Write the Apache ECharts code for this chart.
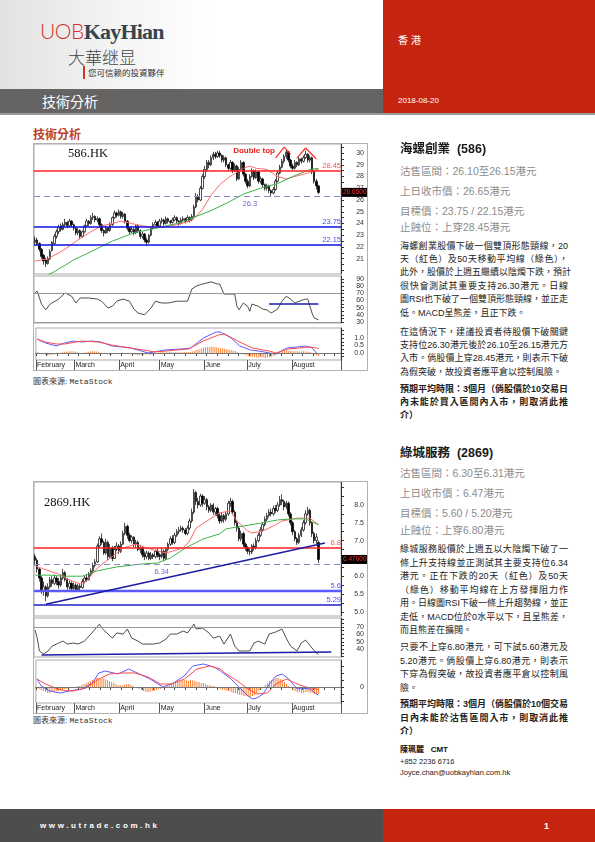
<!DOCTYPE html>
<html><head><meta charset="utf-8">
<script src="https://cdn.jsdelivr.net/npm/echarts@6/dist/echarts.min.js"></script>
<style>
body{margin:0;width:595px;height:842px;position:relative;background:#fff;overflow:hidden;font-family:"Liberation Sans","Noto Sans CJK TC",sans-serif}
.a{position:absolute;white-space:nowrap}
.ln{position:absolute;left:400px;width:168px;font-size:9px;line-height:12px;color:#222;white-space:nowrap;font-family:"Liberation Sans","Noto Sans CJK TC",sans-serif}
.j{text-align:justify;text-align-last:justify}
.b{font-weight:bold}
.info{position:absolute;left:400px;font-size:10.5px;line-height:14px;color:#8c8c8c;white-space:nowrap}
.ttl{position:absolute;left:400px;font-size:12.5px;line-height:16px;font-weight:bold;color:#1a1a1a;white-space:nowrap}
.chart{position:absolute;left:33px;width:335px;border:1px solid #b0b0b0;box-sizing:border-box;background:#fff}
.src{position:absolute;left:33px;font-size:8px;color:#333;white-space:nowrap}
.src span{font-family:"Liberation Mono",monospace}
</style></head><body>

<!-- header -->
<div class="a" style="left:0;top:0;width:383px;height:89px;background:linear-gradient(to right,#e2e2e2 0%,#f4f4f4 30%,#fff 55%)"></div>
<div class="a" style="left:40px;top:17px;line-height:28px"><span style="font-family:Lato,'Liberation Sans';font-weight:300;font-size:21px;color:#d8312b;letter-spacing:-0.5px">UOB</span><span style="font-family:'Liberation Serif';font-weight:bold;font-size:22px;color:#36444d;letter-spacing:-0.8px">KayHian</span></div>
<div class="a" style="left:68px;top:46px;font-size:17px;line-height:22px;color:#454545;font-family:'Noto Sans CJK SC';font-weight:300">大華继显</div>
<div class="a" style="left:83px;top:66px;width:1.5px;height:13px;background:#d8312b"></div>
<div class="a" style="left:88px;top:66px;font-size:8.5px;line-height:13px;color:#333;font-family:'Noto Sans CJK TC'">您可信赖的投資夥伴</div>
<div class="a" style="left:0;top:89px;width:383px;height:24px;background:#666462"></div>
<div class="a" style="left:42px;top:91px;font-size:14px;line-height:20px;color:#fff;font-family:'Noto Sans CJK TC'">技術分析</div>
<div class="a" style="left:383px;top:0;width:212px;height:113px;background:#c5250f"></div>
<div class="a" style="left:398px;top:33px;font-size:10px;line-height:14px;color:#fff;letter-spacing:3px;font-family:'Noto Sans CJK TC'">香港</div>
<div class="a" style="left:398px;top:96px;font-size:8px;line-height:10px;color:#fff">2018-08-20</div>
<div class="a" style="left:0;top:113px;width:595px;height:2px;background:#9a9a9a"></div>

<div class="a" style="left:33px;top:126px;font-size:12px;line-height:16px;font-weight:bold;color:#b8402c;font-family:'Noto Sans CJK TC'">技術分析</div>

<!-- chart 1 -->
<div id="c1" class="chart" style="top:143px;height:228px"></div>
<div class="a" style="left:68px;top:145px;font-family:'Liberation Serif';font-size:12.5px;line-height:16px;color:#111">586.HK</div>
<div class="src" style="top:375px">圖表來源: <span>MetaStock</span></div>

<!-- chart 2 -->
<div id="c2" class="chart" style="top:481px;height:233px"></div>
<div class="a" style="left:44px;top:494px;font-family:'Liberation Serif';font-size:12.5px;line-height:16px;color:#111">2869.HK</div>
<div class="src" style="top:714px">圖表來源: <span>MetaStock</span></div>

<!-- text block 1 -->
<div class="ttl" style="top:141px">海螺創業&nbsp; (586)</div>
<div class="info" style="top:164px">沽售區間：26.10至26.15港元</div>
<div class="info" style="top:184px">上日收市價：26.65港元</div>
<div class="info" style="top:204px">目標價：23.75 / 22.15港元</div>
<div class="info" style="top:220px">止蝕位：上穿28.45港元</div>
<div class="ln j" style="top:239.5px">海螺創業股價下破一個雙頂形態頸線，20</div>
<div class="ln j" style="top:252.9px">天（紅色）及50天移動平均線（綠色），</div>
<div class="ln j" style="top:266.3px">此外，股價於上週五繼續以陰燭下跌，預計</div>
<div class="ln j" style="top:279.7px">很快會測試其重要支持26.30港元。日線</div>
<div class="ln j" style="top:293.1px">圖RSI也下破了一個雙頂形態頸線，並正走</div>
<div class="ln" style="top:306.5px">低。MACD呈熊差，且正下跌。</div>
<div class="ln j" style="top:325.7px">在這情況下，建議投資者待股價下破關鍵</div>
<div class="ln j" style="top:339px">支持位26.30港元後於26.10至26.15港元方</div>
<div class="ln j" style="top:352.3px">入市。倘股價上穿28.45港元，則表示下破</div>
<div class="ln" style="top:365.7px">為假突破，故投資者應平倉以控制風險。</div>
<div class="ln j b" style="top:383.3px">預期平均時限：3個月（倘股價於10交易日</div>
<div class="ln j b" style="top:396px">內未能於買入區間內入市，則取消此推</div>
<div class="ln b" style="top:409px">介）</div>

<!-- text block 2 -->
<div class="ttl" style="top:445px">綠城服務&nbsp; (2869)</div>
<div class="info" style="top:466px">沽售區間：6.30至6.31港元</div>
<div class="info" style="top:486px">上日收市價：6.47港元</div>
<div class="info" style="top:506px">目標價：5.60 / 5.20港元</div>
<div class="info" style="top:523px">止蝕位：上穿6.80港元</div>
<div class="ln j" style="top:543px">綠城服務股價於上週五以大陰燭下破了一</div>
<div class="ln j" style="top:556.5px">條上升支持線並正測試其主要支持位6.34</div>
<div class="ln j" style="top:570px">港元。正在下跌的20天（紅色）及50天</div>
<div class="ln j" style="top:583.5px">（綠色）移動平均線在上方發揮阻力作</div>
<div class="ln j" style="top:597px">用。日線圖RSI下破一條上升趨勢線，並正</div>
<div class="ln j" style="top:610.5px">走低，MACD位於0水平以下，且呈熊差，</div>
<div class="ln" style="top:624px">而且熊差在擴闊。</div>
<div class="ln j" style="top:641px">只要不上穿6.80港元，可下試5.60港元及</div>
<div class="ln j" style="top:654.5px">5.20港元。倘股價上穿6.80港元，則表示</div>
<div class="ln j" style="top:668px">下穿為假突破，故投資者應平倉以控制風</div>
<div class="ln" style="top:681.5px">險。</div>
<div class="ln j b" style="top:698px">預期平均時限：3個月（倘股價於10個交易</div>
<div class="ln j b" style="top:711.5px">日內未能於沽售區間入市，則取消此推</div>
<div class="ln b" style="top:725px">介）</div>
<div class="a" style="left:400px;top:744px;font-size:8px;line-height:11px;font-weight:bold;color:#111">陳珮麗&nbsp;&nbsp; CMT</div>
<div class="a" style="left:400px;top:757px;font-size:7.5px;line-height:10px;color:#222">+852 2236 6716</div>
<div class="a" style="left:400px;top:768px;font-size:7.5px;line-height:10px;color:#222">Joyce.chan@uobkayhian.com.hk</div>

<!-- footer -->
<div class="a" style="left:0;top:809px;width:383px;height:33px;background:#4d4d4d"></div>
<div class="a" style="left:383px;top:809px;width:212px;height:33px;background:#c5250f"></div>
<div class="a" style="left:40px;top:820px;font-size:8px;line-height:12px;font-weight:bold;color:#fff;letter-spacing:2.6px">www.utrade.com.hk</div>
<div class="a" style="left:544px;top:820px;font-size:9px;line-height:12px;font-weight:bold;color:#fff">1</div>

<script>
// ---------- shared x axis (trading days Feb 1 - Aug 31, 2018) ----------
const TOTAL_SLOTS = 143;
const monthStarts = [0, 18, 39, 58, 79, 99, 120];
const monthNames = ['February', 'March', 'April', 'May', 'June', 'July', 'August'];

// ---------- 586.HK ----------
// [open, close, low, high]
const ohlc586 = [
[22.4,22.6,22.2,22.9],[22.6,22.3,22.1,22.8],[22.3,21.8,21.6,22.4],[21.8,21.2,21.0,21.9],[21.3,20.8,20.5,21.4],
[20.9,20.6,20.3,21.1],[20.6,21.0,20.5,21.2],[21.0,21.6,20.9,21.8],[21.7,22.4,21.6,22.5],[22.3,22.9,22.2,23.1],
[22.9,23.3,22.7,23.5],[23.3,23.7,23.1,23.9],[23.8,23.5,23.3,24.0],[23.5,23.9,23.4,24.1],[23.9,24.1,23.7,24.4],
[24.1,23.8,23.6,24.2],[23.8,24.2,23.7,24.4],[24.2,23.9,23.7,24.3],[23.9,23.6,23.4,24.0],[23.6,23.2,23.0,23.7],
[23.2,23.4,23.0,23.6],[23.4,22.9,22.7,23.5],[22.9,23.3,22.8,23.4],[23.3,23.8,23.2,23.9],[23.8,24.2,23.7,24.4],
[24.2,24.0,23.8,24.3],[24.0,24.5,23.9,24.7],[24.5,24.6,24.3,24.9],[24.6,24.3,24.1,24.7],[24.3,24.4,24.1,24.6],
[24.4,23.9,23.7,24.5],[23.9,23.4,23.2,24.0],[23.4,23.2,22.9,23.5],[23.2,23.6,23.1,23.8],[23.6,23.4,23.2,23.7],
[23.4,23.9,23.3,24.1],[23.9,24.5,23.8,24.6],[24.5,24.9,24.4,25.1],[24.9,24.7,24.5,25.0],[24.7,25.0,24.6,25.2],
[25.0,24.6,24.4,25.1],[24.6,24.8,24.4,25.0],[24.8,24.2,24.0,24.9],[24.2,23.6,23.4,24.3],[23.6,23.3,23.1,23.7],
[23.3,23.5,23.2,23.8],[23.5,23.2,23.0,23.6],[23.2,23.8,23.1,23.9],[23.8,23.4,23.2,23.9],[23.4,22.9,22.7,23.5],
[22.9,23.1,22.7,23.3],[23.1,22.6,22.4,23.2],[22.6,22.4,22.1,22.8],[22.4,23.0,22.3,23.1],[23.0,23.6,22.9,23.7],
[23.6,23.9,23.5,24.1],[23.9,24.1,23.8,24.3],[24.1,23.8,23.6,24.2],[23.8,24.2,23.7,24.4],[24.2,24.3,24.0,24.5],
[24.3,24.0,23.8,24.4],[24.0,24.4,23.9,24.6],[24.4,24.2,24.0,24.5],[24.2,24.1,23.9,24.3],[24.1,24.3,24.0,24.5],
[24.3,24.5,24.2,24.7],[24.5,24.2,24.0,24.6],[24.2,24.0,23.8,24.3],[24.0,24.3,23.9,24.5],[24.3,24.4,24.1,24.6],
[24.4,24.2,24.0,24.5],[24.2,24.5,24.1,24.7],[24.5,24.3,24.1,24.6],[24.3,24.6,24.2,24.8],[24.6,25.4,24.5,25.6],
[25.4,26.3,25.3,26.6],[26.3,26.0,25.8,26.5],[26.0,27.0,25.9,27.2],[27.0,28.0,26.9,28.2],[28.0,28.6,27.8,28.9],
[28.6,29.2,28.4,29.4],[29.2,29.0,28.7,29.4],[29.0,29.6,28.9,29.8],[29.6,29.9,29.4,30.1],[29.9,29.7,29.5,30.1],
[29.7,30.0,29.6,30.2],[30.0,29.8,29.6,30.2],[29.8,29.4,29.2,29.9],[29.4,29.6,29.2,29.8],[29.6,29.0,28.8,29.7],
[29.0,28.7,28.5,29.1],[28.7,29.2,28.6,29.4],[29.2,28.5,28.3,29.3],[28.5,28.9,28.4,29.1],[28.9,27.8,27.6,29.0],
[27.8,28.6,27.7,28.8],[28.6,29.2,28.5,29.4],[29.2,28.2,28.0,29.3],[28.2,27.6,27.4,28.3],[27.6,27.2,27.0,27.8],
[27.2,28.0,27.1,28.2],[28.0,28.5,27.9,28.7],[28.5,27.9,27.7,28.6],[27.9,28.4,27.8,28.6],[28.4,27.6,27.4,28.5],
[27.6,27.8,27.4,28.0],[27.8,27.3,27.1,27.9],[27.3,27.0,26.8,27.4],[27.0,27.2,26.8,27.4],[27.2,26.8,26.6,27.3],
[26.8,26.6,26.3,26.9],[26.6,26.9,26.5,27.1],[26.9,27.6,26.8,27.8],[27.6,28.3,27.5,28.5],[28.3,28.8,28.2,29.0],
[28.8,29.3,28.7,29.5],[29.3,29.7,29.1,29.9],[29.7,30.1,29.5,30.3],[30.1,29.4,29.2,30.2],[29.4,28.9,28.7,29.5],
[28.9,28.7,28.5,29.1],[28.7,29.2,28.6,29.4],[29.2,29.0,28.8,29.3],[29.0,29.5,28.9,29.7],[29.5,29.3,29.1,29.6],
[29.3,29.6,29.2,29.8],[29.6,29.9,29.5,30.2],[29.9,29.4,29.2,30.0],[29.4,29.6,29.2,29.8],[29.6,28.4,28.2,29.7],
[28.4,27.6,27.4,28.5],[27.6,27.2,26.9,27.8],[27.2,26.65,26.5,27.3]
];
const ma20_586 = [[0,20.8],[6,21.0],[13,21.7],[20,22.6],[26,23.3],[31,23.8],[36,24.0],[40,24.2],[45,24.0],[50,23.8],[55,23.7],[60,23.7],[66,23.9],[70,24.1],[74,24.4],[78,25.2],[82,26.4],[86,27.3],[90,27.9],[97,28.7],[100,28.9],[103,28.7],[108,28.6],[113,28.0],[117,27.8],[121,28.0],[127,28.3],[131,28.6],[132,28.6]];
const ma50_586 = [[0,19.1],[9,19.9],[18,20.9],[26,21.6],[36,22.5],[46,23.2],[54,23.5],[66,24.0],[75,24.6],[82,25.1],[90,25.8],[97,26.5],[105,27.0],[113,27.4],[120,28.0],[128,28.6],[132,28.7]];
const rsi586 = [[0,70.5],[1,73],[3,55],[5,47],[7,55],[11,62],[14,70.5],[17,66],[19,56.5],[21,63.5],[25,63.5],[29,62],[31,59],[34,49.5],[36,52],[38,59],[41,62],[44,59],[46,48],[48,42.5],[51,40],[54,49.5],[56,59],[59,56.5],[62,56.5],[66,59],[71,59],[73,76],[75,80],[78,83],[82,86],[85,83],[86,83],[88,69],[91,69],[93,69],[94,52],[95,47],[97,56.5],[99,52],[100,45],[101,55],[104,52],[106,48],[108,47],[110,42.5],[113,48],[115,59],[117,66],[119,62],[121,56.5],[123,59],[126,62],[127,62],[129,42.5],[130,35.6],[132,33]];
const macd586 = [[0,0.93],[4,0.67],[9,0.47],[13,0.67],[17,0.8],[21,0.73],[26,0.8],[30,0.73],[35,0.47],[40,0.4],[44,0.33],[49,0.13],[52,0],[55,0.07],[60,0.2],[68,0.27],[72,0.33],[78,1.0],[84,1.4],[86,1.4],[91,1.0],[95,0.47],[100,0.2],[104,0.13],[109,0],[112,-0.07],[117,0.33],[122,0.4],[126,0.47],[129,0.33],[131,0],[132,-0.07]];
const signal586 = [[0,0.93],[4,0.73],[9,0.6],[13,0.6],[21,0.8],[29,0.73],[35,0.53],[44,0.33],[50,0.2],[55,0.07],[60,0.13],[71,0.27],[78,0.8],[85,1.2],[88,1.27],[94,0.8],[101,0.33],[109,0.13],[112,0],[118,0.27],[128,0.4],[131,0.33],[132,0.3]];
const hist586 = [0.05,0.03,0,-0.05,-0.1,-0.15,-0.15,-0.12,-0.08,
-0.05,-0.02,0.02,0.05,0.08,0.1,0.1,
0.12,0.12,0.1,0.05,0.02,0,0.02,0.05,0.08,0.1,0.12,0.12,0.1,0.06,0.02,
-0.02,-0.05,-0.08,-0.1,-0.1,-0.08,-0.05,-0.02,0,0.02,
0,-0.02,-0.05,-0.08,-0.1,-0.12,-0.15,-0.15,-0.12,-0.1,-0.08,-0.1,-0.12,-0.08,-0.04,0,0.03,
0.05,0.05,0.04,0.05,0.06,0.05,0.04,0.05,0.05,0.04,0.05,0.06,0.05,0.06,0.08,0.1,
0.15,0.22,0.25,0.3,0.35,0.38,0.4,0.4,0.42,0.4,0.38,0.35,0.32,0.3,0.28,0.25,0.22,
0.2,0.15,0.12,0.05,0,-0.05,-0.1,-0.15,
-0.2,-0.25,-0.25,-0.28,-0.3,-0.3,-0.28,-0.3,-0.33,-0.3,-0.28,-0.25,-0.2,-0.12,
-0.05,0.02,0.08,0.12,0.15,0.15,0.12,0.1,0.12,0.12,0.1,0.1,0.12,0.1,0.08,0.06,
0,-0.08,-0.15,-0.2];
const stop586 = 28.45, support586 = 26.3, targets586 = [23.75, 22.15], close586 = 26.65;
const rsiTrend586 = [[109,55],[132,55]];
const doubleTop586 = [[[112,29.57],[116,30.51]],[[116,30.51],[119,29.91]],[[122,29.57],[126,30.43]],[[126,30.43],[131,29.49]]];

// ---------- 2869.HK ----------
const ohlc2869 = [
[6.55,6.45,6.30,6.62],[6.45,6.20,6.10,6.50],[6.20,5.95,5.85,6.25],[5.95,5.60,5.50,6.00],[5.60,5.70,5.45,5.85],
[5.70,5.45,5.30,5.75],[5.45,5.70,5.40,5.80],[5.70,5.90,5.65,5.98],[5.90,5.80,5.70,6.00],[5.80,5.95,5.75,6.05],
[5.95,5.85,5.75,6.00],[5.85,5.75,5.65,5.95],[5.75,5.95,5.70,6.05],[5.95,6.10,5.90,6.20],[6.10,5.90,5.85,6.15],
[5.90,5.70,5.62,5.95],[5.70,5.80,5.62,5.88],[5.80,5.65,5.58,5.85],[5.65,5.75,5.60,5.82],[5.75,5.62,5.56,5.80],
[5.62,5.72,5.58,5.78],[5.72,5.68,5.60,5.80],[5.68,5.85,5.65,5.92],[5.85,5.95,5.80,6.02],[5.95,5.90,5.84,6.05],
[5.90,6.05,5.88,6.12],[6.05,6.15,6.00,6.22],[6.15,6.30,6.10,6.38],[6.30,6.40,6.25,6.48],[6.40,6.85,6.38,6.92],
[6.85,7.05,6.80,7.12],[7.05,6.95,6.88,7.20],[6.95,6.65,6.60,7.00],[6.65,6.95,6.60,7.05],[6.95,6.55,6.45,7.00],
[6.55,6.80,6.50,6.90],[6.80,6.50,6.42,6.85],[6.50,6.75,6.48,6.85],[6.75,6.85,6.70,6.95],[6.85,6.70,6.62,6.90],
[6.70,6.90,6.65,6.98],[6.90,7.20,6.88,7.28],[7.20,7.40,7.15,7.50],[7.40,7.15,7.05,7.45],[7.15,7.00,6.95,7.22],
[7.00,7.10,6.92,7.15],[7.10,6.90,6.82,7.12],[6.90,6.95,6.80,7.02],[6.95,6.75,6.70,7.00],[6.75,6.80,6.65,6.88],
[6.80,6.60,6.52,6.85],[6.60,6.55,6.45,6.70],[6.55,6.65,6.48,6.72],[6.65,6.50,6.45,6.70],[6.50,6.60,6.45,6.68],
[6.60,6.55,6.48,6.65],[6.55,6.70,6.50,6.75],[6.70,6.60,6.52,6.78],[6.60,6.55,6.45,6.65],[6.55,6.70,6.50,6.80],
[6.70,6.50,6.42,6.75],[6.50,6.75,6.45,6.82],[6.75,6.90,6.70,6.95],[6.90,7.05,6.85,7.12],[7.05,6.95,6.88,7.15],
[6.95,7.15,6.90,7.22],[7.15,7.25,7.10,7.32],[7.25,7.30,7.18,7.38],[7.30,7.35,7.25,7.42],[7.35,7.30,7.22,7.40],
[7.30,7.20,7.15,7.35],[7.20,7.35,7.15,7.42],[7.35,7.55,7.30,7.62],[7.55,7.80,7.50,7.90],[7.80,8.35,7.75,8.45],
[8.35,8.10,8.00,8.40],[8.10,8.00,7.90,8.20],[8.00,8.25,7.95,8.32],[8.25,8.05,7.95,8.30],[8.05,8.15,8.00,8.25],
[8.15,7.95,7.85,8.20],[7.95,7.85,7.78,8.00],[7.85,8.00,7.80,8.05],[8.00,7.80,7.72,8.05],[7.80,7.90,7.72,7.95],
[7.90,7.70,7.62,7.95],[7.70,7.55,7.47,7.78],[7.55,7.70,7.50,7.80],[7.70,7.60,7.50,7.75],[7.60,7.75,7.55,7.82],
[7.75,8.05,7.70,8.12],[8.05,8.10,7.95,8.20],[8.10,7.80,7.72,8.15],[7.80,7.50,7.42,7.85],[7.50,7.35,7.25,7.58],
[7.35,7.05,6.98,7.40],[7.05,7.20,6.98,7.28],[7.20,6.90,6.82,7.25],[6.90,6.80,6.72,6.95],[6.80,6.70,6.62,6.85],
[6.70,6.68,6.58,6.78],[6.68,6.85,6.62,6.90],[6.85,6.80,6.72,6.92],[6.80,7.00,6.75,7.08],[7.00,7.15,6.95,7.22],
[7.15,7.30,7.10,7.38],[7.30,7.45,7.25,7.52],[7.45,7.60,7.40,7.68],[7.60,7.70,7.55,7.78],[7.70,7.80,7.65,7.88],
[7.80,7.75,7.68,7.90],[7.75,7.90,7.70,7.98],[7.90,7.85,7.78,8.00],[7.85,8.00,7.80,8.08],[8.00,8.15,7.95,8.25],
[8.15,8.10,8.00,8.30],[8.10,7.95,7.85,8.15],[7.95,8.05,7.88,8.12],[8.05,7.75,7.68,8.10],[7.75,7.50,7.42,7.80],
[7.50,7.25,7.15,7.55],[7.25,7.05,6.98,7.30],[7.05,6.95,6.88,7.10],[6.95,7.15,6.90,7.22],[7.15,7.30,7.10,7.38],
[7.30,7.50,7.25,7.58],[7.50,7.75,7.45,7.85],[7.75,7.85,7.70,7.95],[7.85,7.50,7.42,7.90],[7.50,7.20,7.10,7.55],
[7.20,7.00,6.92,7.25],[7.00,7.10,6.90,7.20],[6.95,6.47,6.37,7.00]
];
const ma20_2869 = [[0,6.29],[4,6.20],[11,6.06],[15,5.92],[21,5.78],[24,5.87],[29,6.23],[35,6.51],[41,6.79],[47,6.90],[52,6.79],[57,6.71],[61,6.65],[64,6.71],[69,6.79],[72,6.99],[75,7.35],[80,7.55],[86,7.78],[91,7.83],[94,7.55],[99,7.27],[101,7.21],[106,7.27],[111,7.41],[115,7.55],[122,7.63],[128,7.63],[131,7.49],[132,7.45]];
const ma50_2869 = [[0,6.03],[7,6.03],[13,6.0],[22,6.0],[29,6.15],[38,6.26],[49,6.34],[57,6.37],[63,6.51],[70,6.79],[78,7.04],[86,7.19],[89,7.33],[97,7.41],[105,7.49],[113,7.58],[120,7.61],[126,7.61],[131,7.47],[132,7.45]];
const rsi2869 = [[0,66],[1,55],[2,37.6],[4,33.5],[6,37.6],[8,44.3],[11,48.4],[13,51],[15,47],[18,48.4],[20,47],[23,51],[26,60.5],[28,67.3],[30,74],[31,68.6],[34,60.5],[36,55],[38,62],[41,60.5],[43,67.3],[45,55],[48,51],[50,47],[55,47],[58,48.4],[61,53.8],[63,60.5],[66,60.5],[69,64.6],[71,62],[74,74],[75,67.3],[78,68.6],[81,62],[83,55],[86,57.8],[88,47],[91,60.5],[93,44.3],[95,37.6],[98,37.6],[100,37.6],[102,48.4],[104,51],[107,47],[109,60.5],[112,63.2],[115,67.3],[117,55],[119,44.3],[122,37.6],[124,48.4],[126,52.4],[129,41.6],[131,34.9],[132,33]];
const macd2869 = [[0,0.08],[2,0.01],[6,-0.04],[11,-0.06],[15,-0.04],[21,-0.02],[26,0.04],[29,0.14],[32,0.16],[38,0.13],[43,0.18],[47,0.14],[53,0.08],[59,0],[64,0.04],[69,0.11],[73,0.21],[78,0.23],[83,0.2],[86,0.16],[91,0.08],[95,-0.01],[99,-0.09],[101,-0.12],[103,-0.11],[106,-0.07],[109,0.03],[112,0.11],[115,0.13],[118,0.08],[122,-0.02],[124,-0.01],[128,-0.02],[131,-0.07],[132,-0.08]];
const signal2869 = [[0,0.08],[4,0.03],[11,-0.03],[17,-0.04],[23,-0.01],[29,0.08],[34,0.13],[40,0.14],[46,0.14],[52,0.1],[58,0.03],[63,0.03],[69,0.08],[75,0.18],[81,0.21],[86,0.18],[88,0.14],[94,0.06],[99,-0.02],[103,-0.07],[108,-0.06],[112,0.03],[117,0.08],[122,0.03],[126,0],[131,-0.02],[132,-0.03]];
const hist2869 = [-0.01,-0.02,-0.03,-0.04,-0.05,-0.06,-0.06,-0.05,-0.05,-0.04,-0.04,-0.03,-0.03,-0.02,-0.02,-0.02,-0.01,-0.01,
0,0.01,0.01,0.02,0.03,0.04,
0.05,0.06,0.07,0.08,0.09,0.09,0.08,0.09,0.08,0.07,0.06,0.05,0.04,0.03,0.02,0.02,0.01,
0.02,0.03,0.03,0.02,0.01,0,-0.01,
-0.02,-0.03,-0.04,-0.05,-0.05,-0.05,-0.04,-0.04,-0.03,-0.02,-0.02,-0.01,0,
0.01,0.02,0.03,0.04,0.05,0.06,0.06,0.07,0.07,0.07,0.06,0.07,0.07,0.06,0.05,0.05,0.04,0.04,0.03,0.02,0.02,0.01,0.01,0,
-0.01,-0.02,-0.03,-0.03,-0.04,-0.04,-0.05,-0.06,-0.06,-0.07,-0.08,-0.08,-0.09,-0.09,-0.1,-0.1,-0.09,-0.08,-0.06,-0.04,
-0.02,0,0.02,0.04,0.06,0.07,0.08,0.09,0.09,0.08,0.07,0.05,0.03,
0.01,-0.01,-0.03,-0.04,-0.05,-0.05,-0.06,-0.06,-0.05,-0.05,-0.06,-0.06,-0.07,-0.07,-0.07];
const stop2869 = 6.8, support2869 = 6.34, targets2869 = [5.6, 5.2], targetLabels2869 = ['5.6', '5.29'], close2869 = 6.47;
const priceTrend2869 = [[5, 5.21], [135, 6.93]];
const rsiTrend2869 = [[3, 32.3], [138, 36.2]];

// ---------- builder ----------
const cats = Array.from({length: TOTAL_SLOTS}, (_, i) => 'd' + i);
const FONT = 'Liberation Sans';
const isMonth = (i) => monthStarts.indexOf(i) >= 0;

function range(a, b, s) { const r = []; for (let v = a; v <= b + 1e-9; v += s) r.push(+v.toFixed(4)); return r; }

function yAx(gi, min, max, labels, ticks, fmt) {
  return {type: 'value', gridIndex: gi, position: 'right', min: min, max: max,
    axisLine: {show: true, onZero: false, lineStyle: {color: '#333', width: 1}},
    axisTick: {show: true, customValues: ticks, length: 3, lineStyle: {color: '#333'}},
    axisLabel: {show: true, customValues: labels, formatter: fmt, fontSize: 7, color: '#333', align: 'right', margin: 23,
      fontFamily: FONT, showMinLabel: true, showMaxLabel: true, hideOverlap: false},
    splitLine: {show: false}};
}

function build(el, d) {
  const chart = echarts.init(document.getElementById(el), null, {renderer: 'canvas'});
  const grid = d.grids.map(g => ({left: 0, width: 309, top: g[0], height: g[1], show: true, borderColor: '#a8a8a8', borderWidth: 1}));
  const xAxis = d.grids.map((g, i) => ({type: 'category', gridIndex: i, data: cats, boundaryGap: true,
    axisLine: {show: false}, axisTick: {show: false}, axisLabel: {show: false}, splitLine: {show: false}}));
  Object.assign(xAxis[2], {
    axisLine: {show: true, lineStyle: {color: '#444'}},
    axisTick: {show: true, interval: (i) => i % 5 === 0, length: 3, lineStyle: {color: '#444'}},
    axisLabel: {show: true, interval: (i) => isMonth(i), formatter: (v, i) => monthNames[monthStarts.indexOf(i)] || '',
      align: 'left', fontSize: 7, color: '#222', margin: 2, fontFamily: FONT}
  });
  xAxis.push({type: 'category', gridIndex: 2, data: cats, boundaryGap: true, position: 'bottom',
    axisLine: {show: false}, axisTick: {show: true, interval: (i) => isMonth(i), length: 10, lineStyle: {color: '#555'}},
    axisLabel: {show: false}, splitLine: {show: false}});

  const yAxis = [
    yAx(0, d.pMin, d.pMax, d.pLabels, d.pTicks, d.pFmt),
    yAx(1, d.rMin, d.rMax, d.rLabels, d.rTicks, (v) => String(v)),
    yAx(2, d.mMin, d.mMax, d.mLabels, d.mTicks, d.mFmt)
  ];

  const hl = (v, color, width, type, label) => ({yAxis: v, lineStyle: {color: color, width: width, type: type},
    label: label ? Object.assign({show: true, position: 'insideEndTop', distance: [0, 1], fontSize: 7.5, fontFamily: FONT}, label) : {show: false}});

  const priceLines = [
    hl(d.stop, '#ff2020', 1.5, 'solid', {formatter: d.stopLabel, color: '#ff5050'}),
    hl(d.support, '#8a8ac0', 1.2, [6, 4], null),
    {yAxis: d.close, lineStyle: {color: 'rgba(0,0,0,0)', width: 0},
      label: {show: true, position: 'end', distance: 1, formatter: d.closeLabel, backgroundColor: '#000', color: '#ff2a2a',
        fontSize: 6.5, padding: [1, 1, 1, 1], fontFamily: FONT}}
  ];
  d.targets.forEach((t, i) => priceLines.push(hl(t, d.targetColors[i], d.targetWidths[i], 'solid', {formatter: d.targetLabels[i], color: '#4a4aff'})));
  d.extraLines.forEach(seg => priceLines.push(seg));

  const points = d.points.map(p => ({coord: p.coord, symbol: 'circle', symbolSize: 1, itemStyle: {color: 'rgba(0,0,0,0)'},
    label: Object.assign({show: true, fontSize: 7.5, fontFamily: FONT}, p.label)}));

  const series = [
    {type: 'candlestick', xAxisIndex: 0, yAxisIndex: 0, data: d.ohlc, barWidth: '90%', barMaxWidth: 2.2,
      itemStyle: {color: '#fff', color0: '#000', borderColor: '#000', borderColor0: '#000', borderWidth: 0.7},
      markLine: {symbol: ['none', 'none'], silent: true, animation: false, precision: 4, data: priceLines},
      markPoint: {silent: true, animation: false, data: points}},
    {type: 'line', xAxisIndex: 0, yAxisIndex: 0, data: d.ma20, showSymbol: false, lineStyle: {color: '#ff6a6a', width: 1}, z: 3},
    {type: 'line', xAxisIndex: 0, yAxisIndex: 0, data: d.ma50, showSymbol: false, lineStyle: {color: '#3fb04a', width: 1}, z: 3},
    {type: 'line', xAxisIndex: 1, yAxisIndex: 1, data: d.rsi, showSymbol: false, lineStyle: {color: '#3a3a3a', width: 0.9},
      markLine: {symbol: ['none', 'none'], silent: true, animation: false, label: {show: false},
        data: d.rsiLines.map(v => ({yAxis: v, lineStyle: {color: '#999', width: 1, type: 'solid'}}))
          .concat([[{coord: d.rsiTrend[0], lineStyle: {color: '#1c1ca8', width: 1.6, type: 'solid'}}, {coord: d.rsiTrend[1]}]])}},
    {type: 'bar', xAxisIndex: 2, yAxisIndex: 2, data: d.hist, barWidth: 1, itemStyle: {color: '#ff7a2a'},
      markLine: {symbol: ['none', 'none'], silent: true, animation: false, label: {show: false},
        data: [{yAxis: 0, lineStyle: {color: '#777', width: 1, type: 'solid'}}]}},
    {type: 'line', xAxisIndex: 2, yAxisIndex: 2, data: d.macd, showSymbol: false, lineStyle: {color: '#5a5aff', width: 1}},
    {type: 'line', xAxisIndex: 2, yAxisIndex: 2, data: d.signal, showSymbol: false, lineStyle: {color: '#ff4a4a', width: 1}}
  ];

  chart.setOption({animation: false, textStyle: {fontFamily: FONT}, grid: grid, xAxis: xAxis, yAxis: yAxis, series: series});
}

const seg = (a, b, color, width) => [{coord: a, lineStyle: {color: color, width: width, type: 'solid'}, label: {show: false}}, {coord: b}];

build('c1', {
  grids: [[0, 130], [132, 47], [184, 32]],
  ohlc: ohlc586, ma20: ma20_586, ma50: ma50_586, rsi: rsi586, macd: macd586, signal: signal586, hist: hist586,
  pMin: 19.7, pMax: 30.77, pLabels: range(21, 30, 1), pTicks: range(20, 30.5, 0.5), pFmt: (v) => String(v),
  rMin: 28.6, rMax: 94.2, rLabels: range(30, 90, 10), rTicks: range(30, 90, 5),
  mMin: -0.467, mMax: 1.667, mLabels: [0, 0.5, 1], mTicks: range(-0.25, 1.5, 0.25), mFmt: (v) => v.toFixed(1),
  stop: stop586, stopLabel: String(stop586), support: support586, close: close586, closeLabel: close586.toFixed(4),
  targets: targets586, targetLabels: targets586.map(String), targetColors: ['#1010e0', '#1010e0'], targetWidths: [1.5, 1.5],
  extraLines: doubleTop586.map(s => seg(s[0], s[1], '#ff2a2a', 1.2)),
  points: [
    {coord: [102, 30.17], label: {formatter: 'Double top', color: '#e8201a', fontWeight: 'bold', fontSize: 8, position: 'inside'}},
    {coord: [100, support586], label: {formatter: String(support586), color: '#6a6ad0', position: 'bottom', distance: 3}}
  ],
  rsiLines: [70, 30], rsiTrend: rsiTrend586
});

build('c2', {
  grids: [[0, 134], [136, 39], [178, 43]],
  ohlc: ohlc2869, ma20: ma20_2869, ma50: ma50_2869, rsi: rsi2869, macd: macd2869, signal: signal2869, hist: hist2869,
  pMin: 4.882, pMax: 8.646, pLabels: [5, 5.5, 6, 7, 7.5, 8], pTicks: range(5, 8.5, 0.25), pFmt: (v) => v.toFixed(1),
  rMin: 29.5, rMax: 82.2, rLabels: range(40, 70, 10), rTicks: range(30, 80, 5),
  mMin: -0.16, mMax: 0.27, mLabels: [0], mTicks: range(-0.14, 0.21, 0.07), mFmt: (v) => String(v),
  stop: stop2869, stopLabel: String(stop2869), support: support2869, close: close2869, closeLabel: close2869.toFixed(5),
  targets: targets2869, targetLabels: targetLabels2869, targetColors: ['#5a5aff', '#2020c8'], targetWidths: [2.4, 1.5],
  extraLines: [seg(priceTrend2869[0], priceTrend2869[1], '#1c1ca0', 1.5)],
  points: [
    {coord: [59, support2869], label: {formatter: String(support2869), color: '#6a6ad0', position: 'bottom', distance: 3}}
  ],
  rsiLines: [70], rsiTrend: rsiTrend2869
});
</script>
</body></html>
